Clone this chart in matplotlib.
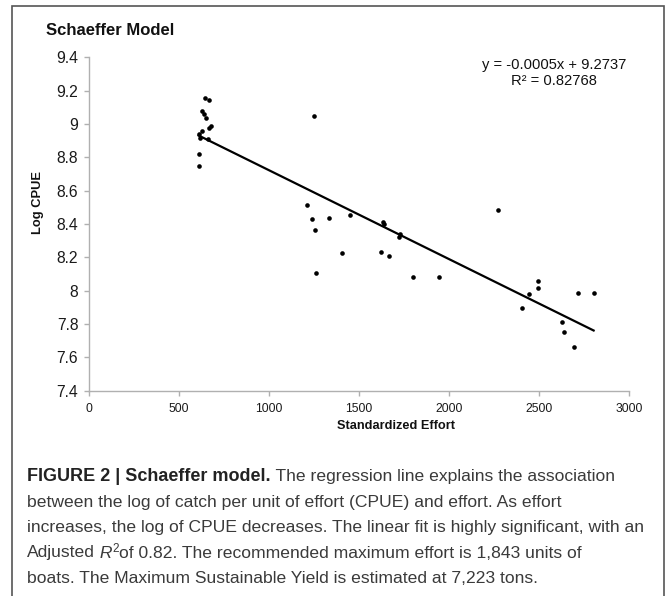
"""
Schaeffer model: log CPUE against standardized effort, with caption
"""

# imports
import matplotlib
matplotlib.use("Agg")
import matplotlib.pyplot as plt
import numpy as np
from matplotlib.patches import Rectangle

# data
effort = [645, 668, 630, 638, 649, 677, 669, 627, 612, 618, 662, 614, 610,
          1251, 1213, 1239, 1335, 1452, 1256, 1635, 1637, 1729, 1720,
          1407, 1620, 1668, 1263, 1798, 1944,
          2271, 2493, 2493, 2445, 2717, 2802, 2406, 2628, 2639, 2695]
log_cpue = [9.155, 9.144, 9.078, 9.059, 9.038, 8.988, 8.975, 8.960, 8.940,
            8.918, 8.909, 8.820, 8.750,
            9.047, 8.512, 8.430, 8.436, 8.452, 8.364, 8.412, 8.400, 8.338,
            8.320, 8.224, 8.230, 8.206, 8.108, 8.084, 8.084,
            8.482, 8.060, 8.018, 7.982, 7.988, 7.988, 7.898, 7.812, 7.752,
            7.662]

x_ticks = [0, 500, 1000, 1500, 2000, 2500, 3000]
y_ticks = [7.4, 7.6, 7.8, 8.0, 8.2, 8.4, 8.6, 8.8, 9.0, 9.2, 9.4]

caption_lines = [
    [("FIGURE 2 | Schaeffer model.", "bold"),
     (" The regression line explains the association", "normal")],
    [("between the log of catch per unit of effort (CPUE) and effort. As effort", "normal")],
    [("increases, the log of CPUE decreases. The linear fit is highly significant, with an", "normal")],
    [("Adjusted", "normal"), (" R", "italic"), ("2", "sup"),
     ("of 0.82. The recommended maximum effort is 1,843 units of", "normal")],
    [("boats. The Maximum Sustainable Yield is estimated at 7,223 tons.", "normal")],
]

W, H = 667, 596


def fx(px):
    return px / W


def fy(py):
    return 1 - py / H


def main():
    plt.rcParams["font.family"] = ["Liberation Sans", "DejaVu Sans"]

    fig = plt.figure(figsize=(W / 100, H / 100), dpi=100)

    # outer frame
    fig.add_artist(Rectangle((fx(12), fy(610)), fx(664) - fx(12), fy(6) - fy(610),
                             transform=fig.transFigure, fill=False,
                             ec="#555555", lw=1.2, clip_on=False))

    ax = fig.add_axes([fx(88.7), fy(390.7), fx(629.3) - fx(88.7), fy(57.4) - fy(390.7)])
    ax.scatter(effort, log_cpue, s=11, color="black", linewidths=0, zorder=3)

    # linear fit
    slope, intercept = np.polyfit(effort, log_cpue, 1)
    xs = np.array([min(effort), max(effort)])
    ax.plot(xs, slope * xs + intercept, color="black", lw=1.6)

    ax.set_xlim(0, 3000)
    ax.set_ylim(7.4, 9.4)
    ax.set_xticks(x_ticks)
    ax.set_yticks(y_ticks)
    ax.set_yticklabels([f"{v:g}" for v in y_ticks])
    for side in ["top", "right"]:
        ax.spines[side].set_visible(False)
    for side in ["left", "bottom"]:
        ax.spines[side].set_color("#b0b0b0")
        ax.spines[side].set_linewidth(1.0)
    ax.tick_params(color="#b0b0b0", length=3.5, width=1.0, labelcolor="#1a1a1a")
    ax.tick_params(axis="x", labelsize=8.7, pad=5)
    ax.tick_params(axis="y", labelsize=11.3, pad=4)

    # titles and labels
    fig.text(fx(45.7), fy(35), "Schaeffer Model", fontsize=12, fontweight="bold",
             va="baseline", color="#111111")
    fig.text(fx(554), fy(65), "y = -0.0005x + 9.2737", fontsize=10.6,
             ha="center", va="center", color="#111111")
    fig.text(fx(554), fy(81), "R² = 0.82768", fontsize=10.6,
             ha="center", va="center", color="#111111")
    fig.text(fx(396), fy(426), "Standardized Effort", fontsize=9.2, fontweight="bold",
             ha="center", va="center", color="#111111")
    fig.text(fx(37.5), fy(202), "Log CPUE", fontsize=9.3, fontweight="bold",
             rotation=90, ha="center", va="center", color="#111111")

    # caption
    renderer = fig.canvas.get_renderer()
    for i, parts in enumerate(caption_lines):
        x = fx(27)
        y = fy(481 + 25.5 * i)
        for s, kind in parts:
            kw = dict(fontsize=12.6, color="#3a3a3a", va="baseline", ha="left")
            dy = 0
            if kind == "bold":
                kw["fontweight"] = "bold"
                kw["fontsize"] = 13
                kw["color"] = "#222222"
            elif kind == "italic":
                kw["fontstyle"] = "italic"
            elif kind == "sup":
                kw["fontsize"] = 8.5
                dy = 6 / H
            t = fig.text(x, y + dy, s, **kw)
            x = t.get_window_extent(renderer).x1 / fig.bbox.width

    fig.savefig("out.png", dpi=100)
    return 0


if __name__ == '__main__':
    main()
